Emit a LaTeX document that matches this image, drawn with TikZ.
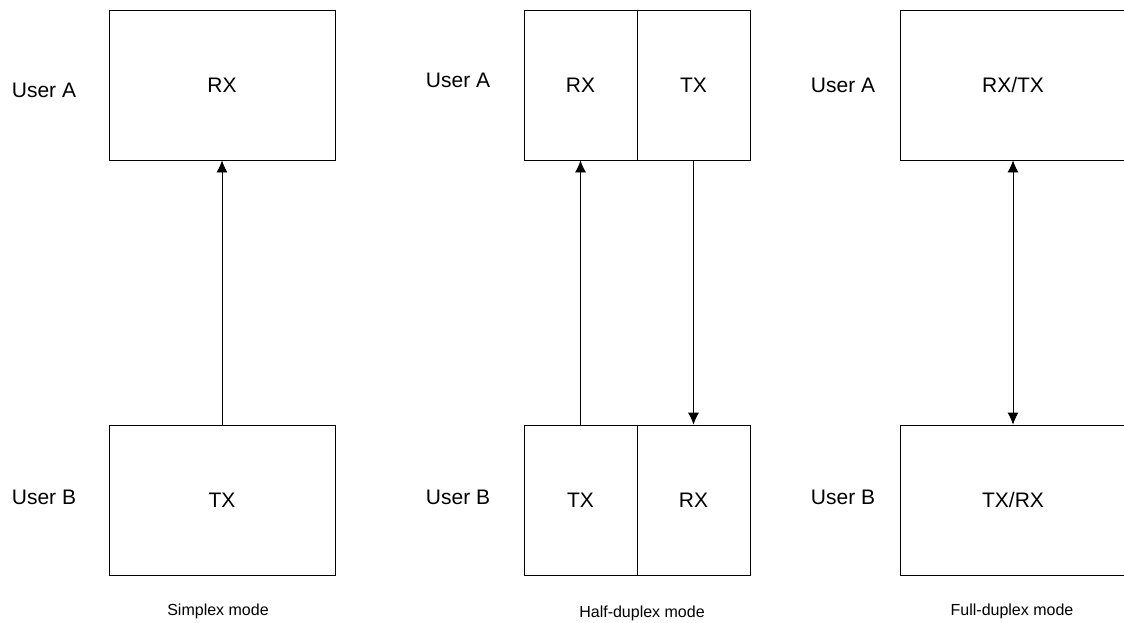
\documentclass[tikz,border=0pt]{standalone}
\usepackage{fontspec}
\setmainfont{Liberation Sans}
\usetikzlibrary{arrows.meta}

\begin{document}
\begin{tikzpicture}[x=1pt, y=-1pt, line width=0.8pt,
		unit/.style={draw, minimum width=226, minimum height=150, inner sep=0pt, font=\fontsize{21}{25}\selectfont},
		halfunit/.style={unit, minimum width=113},
		user/.style={font=\fontsize{21}{25}\selectfont},
		caption/.style={font=\fontsize{16}{19}\selectfont},
		link/.style={-{Latex[length=12pt, width=11pt]}},
		duplexlink/.style={{Latex[length=12pt, width=11pt]}-{Latex[length=12pt, width=11pt]}}]
			\useasboundingbox (0, 0) rectangle (1124, 622);
			\clip (0, 0) rectangle (1124, 622);
			
			% simplex
			\node [unit] (SrxA) at (222, 85) {RX};
			\node [unit] (StxB) at (222, 500) {TX};
			\node [user] (SuserA) at (44, 90) {User A};
			\node [user] (SuserB) at (44, 497) {User B};
			\draw[link] (StxB) -- (SrxA);
			\node [caption] (Scap) at (218, 611) {Simplex mode};
			
			% half-duplex
			\node [halfunit] (HrxA) at (580.5, 85) {RX};
			\node [halfunit] (HtxA) at (693.5, 85) {TX};
			\node [halfunit] (HtxB) at (580.5, 500) {TX};
			\node [halfunit] (HrxB) at (693.5, 500) {RX};
			\node [user] (HuserA) at (458, 80) {User A};
			\node [user] (HuserB) at (458, 497) {User B};
			\draw[link] (HtxB) -- (HrxA);
			\draw[link] (HtxA) -- (HrxB);
			\node [caption] (Hcap) at (642, 613) {Half-duplex mode};
			
			% full-duplex
			\node [unit] (FtrxA) at (1013, 85) {RX/TX};
			\node [unit] (FtrxB) at (1013, 500) {TX/RX};
			\node [user] (FuserA) at (843, 85) {User A};
			\node [user] (FuserB) at (843, 497) {User B};
			\draw[duplexlink] (FtrxA) -- (FtrxB);
			\node [caption] (Fcap) at (1012, 611) {Full-duplex mode};
		\end{tikzpicture}
\end{document}
